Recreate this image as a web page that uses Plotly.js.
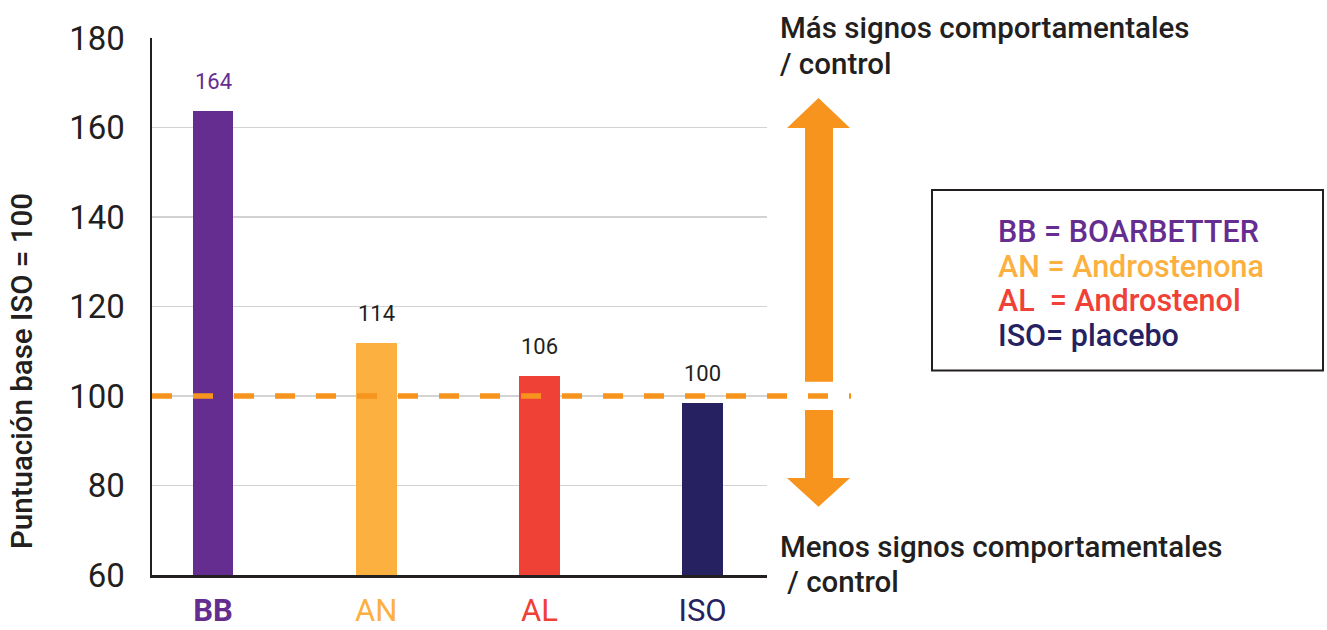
<!DOCTYPE html>
<html>
<head>
<meta charset="utf-8">
<script src="https://cdn.plot.ly/plotly-3.0.1.min.js"></script>
<style>html,body{margin:0;padding:0;background:#fff;}#chart{width:1327px;height:630px;}</style>
</head>
<body>
<div id="chart"></div>
<script>
// ---- data ----
const categories = ['BB', 'AN', 'AL', 'ISO'];
const scores = [163.6, 111.9, 104.5, 98.5];           // bar heights as drawn
const scoreLabels = ['164', '114', '106', '100'];      // printed values
const baseline = 100;
const legendLines = ['BB = BOARBETTER', 'AN = Androstenona', 'AL\u00a0 = Androstenol', 'ISO= placebo'];
const upperText = ['Más signos comportamentales', '/ control'];
const lowerText = ['Menos signos comportamentales', ' / control'];
const yTitle = 'Puntuación base ISO = 100';

// ---- styles ----
const colors = ['#662D91', '#FBB040', '#EF4136', '#262262'];
const labelColors = ['#662D91', '#231F20', '#231F20', '#231F20'];
const orange = '#F7941D';
const ink = '#231F20';
const FONT = 'Roboto, "Open Sans", sans-serif';

// pixel -> paper helpers (plot area 152..767 x 38..575)
const L = 152, R = 560, T = 38, B = 55, W = 1327, H = 630;
const PW = W - L - R, PH = H - T - B;
const X = p => (p - L) / PW;
const Y = p => (H - B - p) / PH;

const trace = {
  type: 'bar',
  x: categories,
  y: scores,
  width: 0.25,
  marker: {color: colors, line: {width: 0}},
  hoverinfo: 'skip'
};

const annotations = [];
categories.forEach((c, i) => {
  annotations.push({
    x: c, y: scores[i], xref: 'x', yref: 'y', text: scoreLabels[i],
    showarrow: false, yanchor: 'middle', yshift: 29.5,
    font: {family: FONT, size: 22, color: labelColors[i]}
  });
});
// y axis title
annotations.push({
  xref: 'paper', yref: 'paper', x: X(22), y: Y(371), text: yTitle, textangle: -90,
  showarrow: false, xanchor: 'center', yanchor: 'middle',
  font: {family: FONT, size: 29.5, color: ink, weight: 500}
});
// side texts
const sidePos = [[778, 28], [778, 64], [778, 547], [778, 582]];
[...upperText, ...lowerText].forEach((t, i) => {
  annotations.push({
    xref: 'paper', yref: 'paper', x: X(sidePos[i][0]), y: Y(sidePos[i][1]), text: t.replace(/ /g, '\u00a0'),
    showarrow: false, xanchor: 'left', yanchor: 'middle',
    font: {family: FONT, size: 29.5, color: ink, weight: 500}
  });
});
// legend box lines
const legY = [231, 266, 300, 335];
legendLines.forEach((t, i) => {
  annotations.push({
    xref: 'paper', yref: 'paper', x: X(996), y: Y(legY[i]), text: t,
    showarrow: false, xanchor: 'left', yanchor: 'middle',
    font: {family: FONT, size: 30.5, color: colors[i], weight: 500}
  });
});

function path(pts) {
  return 'M ' + pts.map(p => X(p[0]) + ',' + Y(p[1])).join(' L ') + ' Z';
}

const shapes = [
  {type: 'line', xref: 'paper', yref: 'y', x0: 0, x1: X(851), y0: baseline, y1: baseline,
   line: {color: orange, width: 5.5, dash: '20px,21px'}, layer: 'above'},
  {type: 'path', xref: 'paper', yref: 'paper', fillcolor: orange, line: {width: 0},
   path: path([[818.5, 98], [850, 128], [833, 128], [833, 381.7], [805, 381.7], [805, 128], [787, 128]])},
  {type: 'path', xref: 'paper', yref: 'paper', fillcolor: orange, line: {width: 0},
   path: path([[805, 410], [833, 410], [833, 478], [850, 478], [818.5, 506.7], [787, 478], [805, 478]])},
  {type: 'rect', xref: 'paper', yref: 'paper', x0: X(932), x1: X(1323), y0: Y(190), y1: Y(370.5),
   line: {color: ink, width: 2}, fillcolor: 'rgba(0,0,0,0)'}
];

const tickText = categories.map((c, i) => {
  const inner = i === 0 ? '<b>' + c + '</b>' : c;
  return '<span style="color:' + colors[i] + '">' + inner + '</span>';
});

const layout = {
  width: W, height: H,
  margin: {l: L, r: R, t: T, b: B, pad: 0},
  paper_bgcolor: '#fff', plot_bgcolor: '#fff',
  showlegend: false,
  bargap: 0,
  xaxis: {
    type: 'category', range: [-0.374, 3.395], tickvals: categories, ticktext: tickText,
    showline: true, linecolor: ink, linewidth: 2.5, showgrid: false, zeroline: false,
    ticks: '', ticklabelstandoff: 6, fixedrange: true,
    tickfont: {family: FONT, size: 31, color: ink}
  },
  yaxis: {
    range: [60, 180], dtick: 20, tick0: 60,
    showline: true, linecolor: ink, linewidth: 2.5,
    showgrid: true, gridcolor: '#d3d3d3', gridwidth: 1.5, zeroline: false,
    ticks: '', ticklabelstandoff: 18, fixedrange: true,
    tickfont: {family: FONT, size: 33, color: ink}
  },
  annotations: annotations,
  shapes: shapes
};

Plotly.newPlot('chart', [trace], layout, {displayModeBar: false, staticPlot: true});
</script>
</body>
</html>
